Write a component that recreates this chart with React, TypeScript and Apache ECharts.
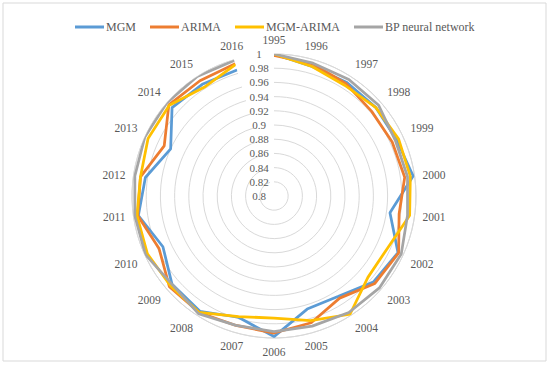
import React, { useEffect, useRef } from "react";
import * as echarts from "echarts";

const years = ["1995","1996","1997","1998","1999","2000","2001","2002","2003","2004","2005","2006","2007","2008","2009","2010","2011","2012","2013","2014","2015","2016"];
const mgm = [1.0,0.99,0.99,0.99,0.99,0.998,0.965,0.992,0.985,0.968,0.966,0.998,0.978,0.993,0.99,0.972,0.993,0.983,0.96,0.99,0.987,0.985];
const arima = [0.998,0.994,0.988,0.982,0.983,0.986,0.978,0.993,0.988,0.971,0.986,0.993,0.99,0.995,0.995,0.978,0.994,0.99,0.97,0.996,0.993,0.994];
const mgmArima = [1.0,0.99,0.985,0.99,0.993,0.994,0.993,0.976,0.975,0.998,0.983,0.972,0.977,0.995,0.993,0.996,0.995,0.99,0.995,0.995,0.982,0.993];
const bp = [1.0,0.995,0.995,0.995,0.988,0.99,0.99,0.997,0.997,0.995,0.991,0.991,0.99,0.997,0.99,0.999,0.998,0.998,1.0,1.0,1.0,0.999];
const seriesNames = ["MGM","ARIMA","MGM-ARIMA","BP neural network"];
const seriesColors = ["#5B9BD5","#ED7D31","#FFC000","#A5A5A5"];

const FONT = "Liberation Serif, DejaVu Serif, serif";

export default function App() {
  const ref = useRef<HTMLDivElement>(null);
  useEffect(() => {
    if (!ref.current) return;
    const chart = echarts.init(ref.current, null, { renderer: "svg" });
    const all = [mgm, arima, mgmArima, bp];
    const closed = (arr: number[]) => [...arr.map((v, i) => [v, i]), [arr[0], 0]];
    chart.setOption({
      animation: false,
      backgroundColor: "#ffffff",
      graphic: [
        { type: "rect", shape: { x: 3, y: 3, width: 543, height: 358 }, style: { fill: "none", stroke: "#d9d9d9", lineWidth: 1 }, silent: true },
      ],
      legend: {
        top: 16,
        left: "center",
        icon: "rect",
        itemWidth: 29,
        itemHeight: 3,
        itemGap: 14,
        textStyle: { fontFamily: FONT, fontSize: 12, color: "#595959", padding: [0, 0, 0, -3] },
        data: seriesNames,
      },
      polar: { center: [274, 196], radius: 142 },
      angleAxis: {
        type: "category",
        data: years,
        startAngle: 90,
        clockwise: true,
        boundaryGap: false,
        axisLine: { show: true, lineStyle: { color: "#d9d9d9", width: 1 } },
        axisTick: { show: false },
        splitLine: { show: false },
        axisLabel: { fontFamily: FONT, fontSize: 11.5, color: "#595959", margin: 8 },
      },
      radiusAxis: {
        type: "value",
        min: 0.8,
        max: 1,
        interval: 0.02,
        axisLine: { show: false },
        axisTick: { show: false },
        splitLine: { show: true, lineStyle: { color: "#d9d9d9", width: 1 } },
        axisLabel: {
          fontFamily: FONT,
          fontSize: 11,
          color: "#595959",
          margin: 15,
          align: "center",
          formatter: (v: number) => String(+v.toFixed(2)),
        },
      },
      series: all.map((arr, k) => ({
        name: seriesNames[k],
        type: "line",
        coordinateSystem: "polar",
        data: closed(arr),
        symbol: "none",
        lineStyle: { width: 2.75, color: seriesColors[k] },
        itemStyle: { color: seriesColors[k] },
        z: 2 + k,
      })),
    });
    return () => chart.dispose();
  }, []);
  return <div ref={ref} style={{ position: "fixed", left: 0, top: 0, width: 550, height: 365 }} />;
}
